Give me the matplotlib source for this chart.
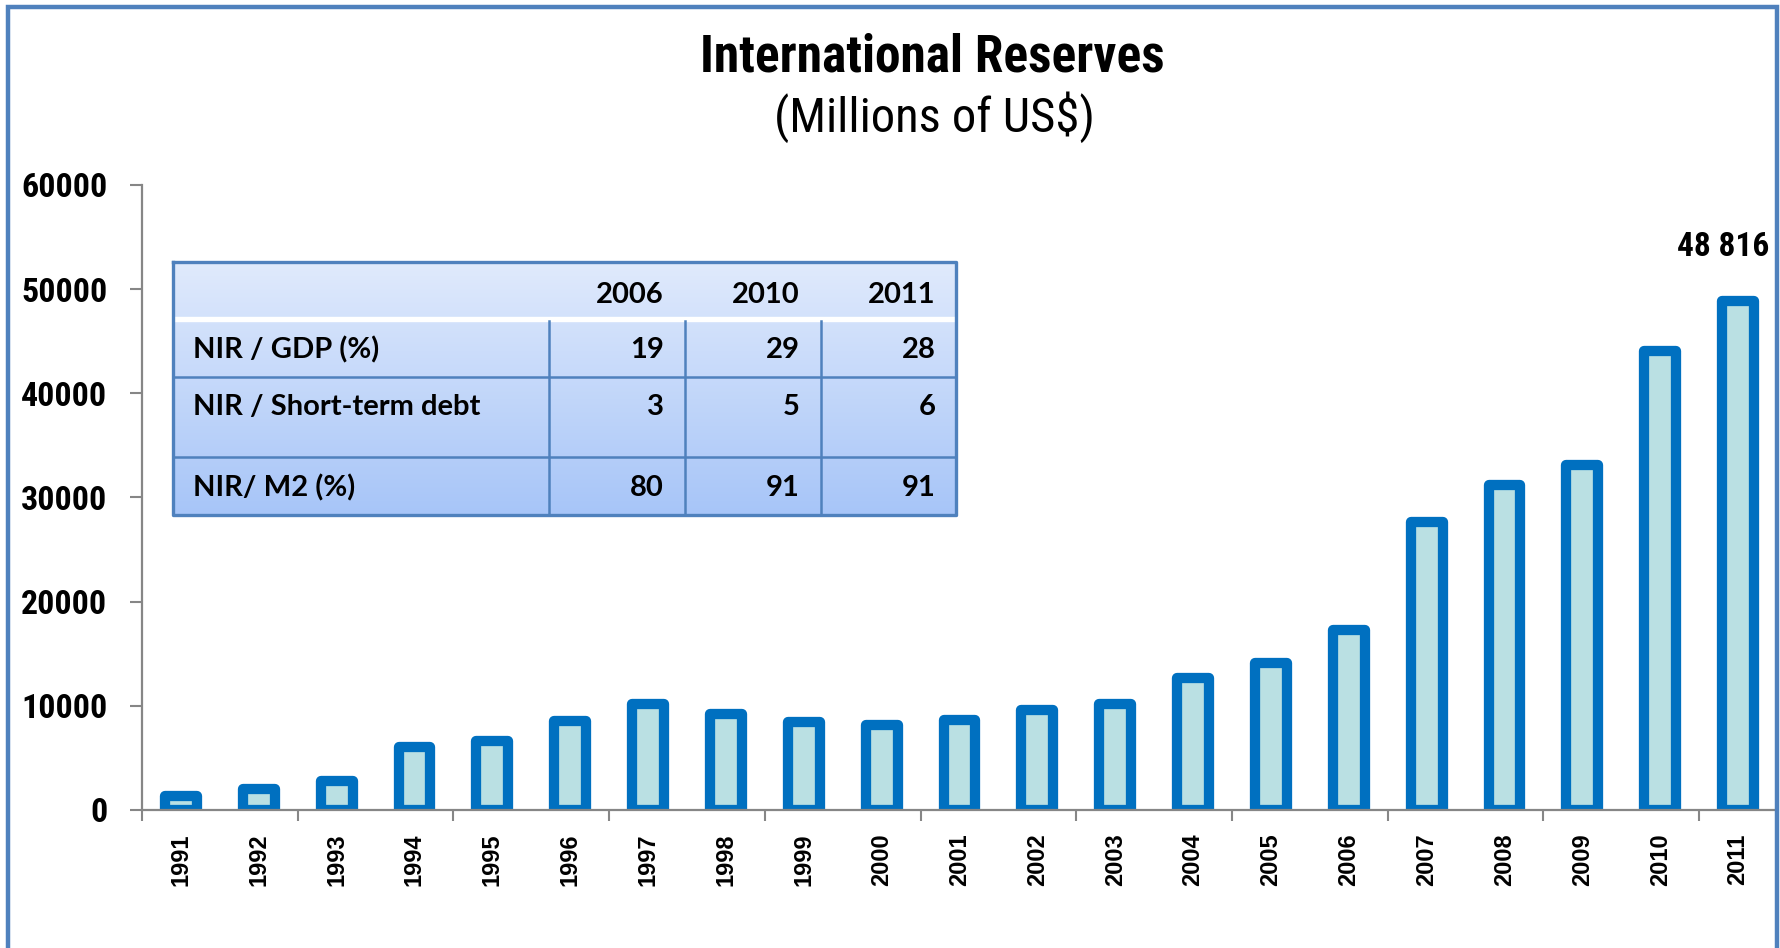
import matplotlib
matplotlib.use('Agg')
import matplotlib.pyplot as plt
import numpy as np

# Net international reserves, millions of US$
years = [str(y) for y in range(1991, 2012)]
reserves = [1304, 2001, 2741, 6025, 6641, 8540, 10169, 9183, 8404, 8180, 8613,
            9598, 10194, 12631, 14097, 17275, 27689, 31196, 33135, 44105, 48816]

# Ratio table in the upper left
table_years = ['2006', '2010', '2011']
table_rows = ['NIR / GDP (%)', 'NIR / Short-term debt', 'NIR/ M2 (%)']
table_vals = [['19', '29', '28'],
              ['3', '5', '6'],
              ['80', '91', '91']]

NARROW = ['Roboto Condensed', 'Liberation Sans', 'DejaVu Sans']
ARIAL = ['Liberation Sans', 'DejaVu Sans']
CALIBRI = ['Lato', 'DejaVu Sans']

W, H = 1781, 948
fig = plt.figure(figsize=(W / 100, H / 100), dpi=100)

def px_box(x0, y0, x1, y1):
    # pixel box (top-left origin) -> figure fraction rect
    return [x0 / W, 1 - y1 / H, (x1 - x0) / W, (y1 - y0) / H]

ax = fig.add_axes(px_box(142, 185, 1777, 810))
x = np.arange(len(years))
bars = ax.bar(x, reserves, width=0.41, color='#BAE0E3', edgecolor='#0070C0', linewidth=7.4, zorder=2)
for b in bars:
    b.set_joinstyle('round')

ax.set_xlim(-0.5, len(years) - 0.5)
ax.set_ylim(0, 60000)
ax.set_yticks(range(0, 60001, 10000))
ax.set_yticklabels([str(v) for v in range(0, 60001, 10000)], family=NARROW, fontweight='bold', fontsize=24.5)
ax.tick_params(axis='y', length=9, width=1.5, color='#868686', pad=16)

ax.set_xticks(x)
ax.set_xticklabels(years, rotation=90, family=ARIAL, fontweight='bold', fontsize=17)
ax.tick_params(axis='x', which='major', length=0, pad=17)
ax.set_xticks(np.arange(-0.5, len(years), 2), minor=True)
ax.tick_params(axis='x', which='minor', length=8, width=1.5, color='#868686')

for side in ['top', 'right']:
    ax.spines[side].set_visible(False)
for side in ['left', 'bottom']:
    ax.spines[side].set_color('#868686')
    ax.spines[side].set_linewidth(1.6)
    ax.spines[side].set_zorder(3)

ax.annotate(f'{reserves[-1]:,}'.replace(',', ' '), (x[-1], reserves[-1]), xytext=(-11, 39),
            textcoords='offset points', ha='center', va='center',
            family=NARROW, fontweight='bold', fontsize=24)

fig.text(932 / W, 1 - 57 / H, 'International Reserves', ha='center', va='center',
         family=NARROW, fontweight='bold', fontsize=37)
fig.text(934 / W, 1 - 117 / H, '(Millions of US$)', ha='center', va='center',
         family=NARROW, fontsize=35)

# outer frame, drawn over everything
frame = fig.add_axes([0, 0, 1, 1], zorder=10)
frame.set_xlim(0, W); frame.set_ylim(H, 0); frame.axis('off')
frame.plot([8, 8, 1777, 1777], [H + 10, 7, 7, H + 10], color='#4F81BD', lw=3.2,
           solid_joinstyle='miter', clip_on=False)

# table drawn in pixel units
tx0, ty0, tx1, ty1 = 173, 262, 956, 515
tw, th = tx1 - tx0, ty1 - ty0
tab = fig.add_axes(px_box(tx0, ty0, tx1, ty1), zorder=4)
tab.set_xlim(0, tw); tab.set_ylim(th, 0); tab.axis('off')
grad = np.linspace(0, 1, 256)[:, None]
cmap = matplotlib.colors.LinearSegmentedColormap.from_list('tbl', ['#E0EAFC', '#A7C5F8'])
tab.imshow(grad, cmap=cmap, aspect='auto', extent=[0, tw, th, 0], zorder=0)

col_edges = [376, 512, 648]
row_edges = [115, 195]
tab.fill_between([0, tw], 55, 59, color='white', zorder=1)
line_kw = dict(color='#4F81BD', lw=1.8, zorder=2)
for cx in col_edges:
    tab.plot([cx, cx], [59, th], **line_kw)
for ry in row_edges:
    tab.plot([0, tw], [ry, ry], **line_kw)
tab.plot([0, tw, tw, 0, 0], [0, 0, th, th, 0], color='#4F81BD', lw=2.4, zorder=3, clip_on=False)

num_right = [491, 627, 763]
row_y = [88, 145, 226]
txt_kw = dict(family=CALIBRI, fontweight='bold', fontsize=21, va='center', zorder=5)
for yr, xr in zip(table_years, num_right):
    tab.text(xr, 33, yr, ha='right', **txt_kw)
for name, vals, ry in zip(table_rows, table_vals, row_y):
    tab.text(20, ry, name, ha='left', **txt_kw)
    for v, xr in zip(vals, num_right):
        tab.text(xr, ry, v, ha='right', **txt_kw)

fig.savefig('out.png', dpi=100)
